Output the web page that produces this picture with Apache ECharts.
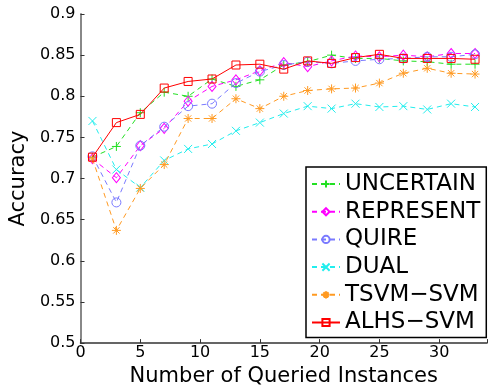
<!DOCTYPE html>
<html><head><meta charset="utf-8">
<script src="https://cdn.jsdelivr.net/npm/echarts@6/dist/echarts.min.js"></script>
<style>html,body{margin:0;padding:0;background:#fff}#c{width:490px;height:392px}</style>
</head><body><div id="c"></div>
<script>
const xs = [1,3,5,7,9,11,13,15,17,19,21,23,25,27,29,31,33];
const seriesNames = ['UNCERTAIN','REPRESENT','QUIRE','DUAL','TSVM\u2212SVM','ALHS\u2212SVM'];
const uncertain = [0.726,0.739,0.780,0.805,0.800,0.821,0.812,0.820,0.838,0.842,0.850,0.846,0.846,0.843,0.842,0.839,0.839];
const represent = [0.724,0.701,0.740,0.761,0.794,0.812,0.820,0.831,0.841,0.836,0.843,0.849,0.848,0.850,0.848,0.852,0.852];
const quire     = [0.727,0.671,0.740,0.763,0.788,0.791,0.816,0.830,0.838,0.842,0.840,0.843,0.845,0.846,0.848,0.848,0.851];
const dual      = [0.770,0.711,0.689,0.722,0.736,0.742,0.758,0.768,0.779,0.788,0.785,0.791,0.787,0.788,0.784,0.791,0.787];
const tsvm      = [0.724,0.637,0.688,0.717,0.773,0.773,0.797,0.785,0.800,0.807,0.809,0.810,0.816,0.828,0.834,0.828,0.827];
const alhs      = [0.726,0.768,0.778,0.810,0.818,0.821,0.838,0.839,0.833,0.843,0.840,0.847,0.851,0.846,0.846,0.846,0.845];
const yTicks = [0.5,0.55,0.6,0.65,0.7,0.75,0.8,0.85,0.9];

const allValues = [uncertain, represent, quire, dual, tsvm, alhs];
const colors = ['#22e022','#ff00ff','#7a7aff','#22eeee','#ff9a22','#ff0000'];
const symbols = [
  'path://M5,0L5,10M0,5L10,5',
  'path://M5,0L10,5L5,10L0,5Z',
  'circle',
  'path://M0,0L10,10M0,10L10,0',
  'path://M5,0L5,10M0,5L10,5M1.5,1.5L8.5,8.5M1.5,8.5L8.5,1.5',
  'rect'
];
const sizes = [9,[8,10],9,8,9,8];
const dashed = [true,true,true,true,true,false];
const FONT = 'DejaVu Sans';

const series = allValues.map((vals,i)=>({
  name: seriesNames[i],
  type: 'line',
  data: xs.map((x,j)=>[x, vals[j]]),
  color: colors[i],
  symbol: symbols[i],
  symbolSize: sizes[i],
  showAllSymbol: true,
  lineStyle: {color: colors[i], width: 1, type: dashed[i] ? [5,4] : 'solid'},
  itemStyle: {color: 'transparent', borderColor: colors[i], borderWidth: 1},
  emphasis: {disabled: true},
  z: 2 + i
}));

const chart = echarts.init(document.getElementById('c'), null, {renderer:'canvas'});
chart.setOption({
  animation: false,
  backgroundColor: '#fff',
  grid: {left: 75, right: -4, top: 14, bottom: 48},
  xAxis: {
    type: 'value', min: 0, max: 34, interval: 5,
    name: 'Number of Queried Instances', nameLocation: 'middle', nameGap: 21,
    nameTextStyle: {fontFamily: FONT, fontSize: 21, color: '#000'},
    axisLine: {lineStyle: {color: '#333', width: 1.5}},
    axisTick: {inside: true, length: 4, lineStyle: {color: '#333'}},
    axisLabel: {fontFamily: FONT, fontSize: 16, color: '#000', margin: 2,
      formatter: v => (v % 5 === 0 ? String(v) : '')},
    splitLine: {show: false}
  },
  yAxis: {
    type: 'value', min: yTicks[0], max: yTicks[yTicks.length-1], interval: 0.05,
    name: 'Accuracy', nameLocation: 'middle', nameGap: 36,
    nameTextStyle: {fontFamily: FONT, fontSize: 21, color: '#000'},
    axisLine: {show: true, lineStyle: {color: '#888', width: 2}},
    axisTick: {show: true, inside: true, length: 4, lineStyle: {color: '#333'}},
    axisLabel: {fontFamily: FONT, fontSize: 16, color: '#000', margin: 5,
      formatter: v => String(+v.toFixed(2))},
    splitLine: {show: false}
  },
  legend: {
    data: seriesNames,
    orient: 'vertical', left: 306, top: 167,
    itemWidth: 28, itemHeight: 9, itemGap: 3.7,
    padding: [5, 6, 3, 5],
    borderColor: '#000', borderWidth: 1.5, backgroundColor: '#fff',
    textStyle: {fontFamily: FONT, fontSize: 23, color: '#000', lineHeight: 24},
    selectedMode: false
  },
  series: series
});
</script></body></html>
